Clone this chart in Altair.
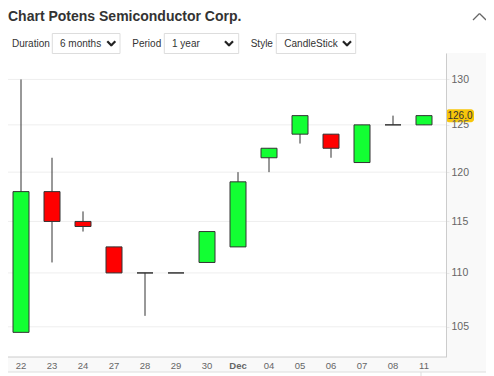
import altair as alt
import pandas as pd

# ---- data ----
dates = ["22", "23", "24", "27", "28", "29", "30", "Dec", "04", "05", "06", "07", "08", "11"]
opens = [104.5, 118.0, 115.0, 112.5, 110.0, 110.0, 111.0, 112.5, 121.5, 124.0, 124.0, 121.0, 125.0, 125.0]
closes = [118.0, 115.0, 114.5, 110.0, 110.0, 110.0, 114.0, 119.0, 122.5, 126.0, 122.5, 125.0, 125.0, 126.0]
highs = [130.0, 121.5, 116.0, 112.5, 110.0, 110.0, 114.0, 120.0, 122.5, 126.0, 124.0, 125.0, 126.0, 126.0]
lows = [104.5, 111.0, 114.0, 110.0, 106.0, 110.0, 111.0, 112.5, 120.0, 123.0, 121.5, 121.0, 125.0, 125.0]
y_ticks = [105, 110, 115, 120, 125, 130]
last_price = [126.0]
last_label = ["126.0"]

title_text = "Chart Potens Semiconductor Corp."
control_labels = ["Duration", "Period", "Style"]
control_values = ["6 months", "1 year", "CandleStick"]

FONT = "Liberation Sans"
W, H = 438, 304

df = pd.DataFrame({"date": dates, "open": opens, "close": closes, "high": highs, "low": lows})
df["dir"] = ["up" if c > o else ("down" if c < o else "flat") for o, c in zip(opens, closes)]

xenc = alt.X(
    "date:N", sort=dates, title=None,
    scale=alt.Scale(range=[-2.5, 431.5], paddingInner=0, paddingOuter=0),
    axis=alt.Axis(labelAngle=0, ticks=False, domain=False, grid=False, labelPadding=3, zindex=1,
                  labelFontSize=9.5, labelColor="#666", labelFont=FONT,
                  labelFontWeight={"expr": "datum.label == 'Dec' ? 'bold' : 'normal'"}),
)
yscale = alt.Scale(type="log", domain=[102.3, 133])
yaxis = alt.Axis(orient="right", values=y_ticks, format="d", ticks=True, tickSize=3,
                 tickColor="#e8e8e8", grid=False, domainColor="#cccccc", zindex=1,
                 labelPadding=2, labelFontSize=10.5, labelColor="#666", labelFont=FONT)

grid = alt.Chart(pd.DataFrame({"t": y_ticks})).mark_rule(color="#eeeeee", strokeWidth=1).encode(
    y=alt.Y("t:Q", scale=yscale, title=None, axis=yaxis), x=alt.value(-2), x2=alt.value(438))

base = alt.Chart(df)
wick = base.mark_rule(color="#333", strokeWidth=1).encode(
    x=xenc,
    y=alt.Y("low:Q", scale=yscale, title=None),
    y2="high:Q",
)
body = base.mark_bar(size=16, stroke="#333", strokeWidth=1).encode(
    x=xenc,
    y=alt.Y("open:Q", scale=yscale, title=None),
    y2="close:Q",
    color=alt.Color("dir:N", legend=None,
                    scale=alt.Scale(domain=["up", "down", "flat"], range=["#12FF33", "#FF0000", "#ffffff"])),
)

pdf = pd.DataFrame({"price": last_price, "label": last_label})
badge = alt.Chart(pdf).mark_tick(size=28, thickness=13, color="#F7C60A", cornerRadius=3, opacity=1).encode(
    x=alt.value(452), y=alt.Y("price:Q", scale=yscale, title=None))
badge_text = alt.Chart(pdf).mark_text(fontSize=10, color="#333", font=FONT, align="center", baseline="middle").encode(
    x=alt.value(452), y=alt.Y("price:Q", scale=yscale, title=None), text="label:N")

one = pd.DataFrame({"a": [0]})


def vtext(text, x, y, size=10, weight="normal", color="#333"):
    return alt.Chart(one).mark_text(text=text, align="left", baseline="alphabetic", fontSize=size,
                                    fontWeight=weight, color=color, font=FONT).encode(
        x=alt.value(x), y=alt.value(y))


def vrect(x1, x2, y1, y2, fill="white", stroke="#dddddd"):
    kw = {"fill": fill, "strokeWidth": 1}
    if stroke:
        kw["stroke"] = stroke
    return alt.Chart(one).mark_rect(**kw).encode(
        x=alt.value(x1), x2=alt.value(x2), y=alt.value(y1), y2=alt.value(y2))


def vline(x1, y1, x2, y2, color="#222", width=1.0):
    return alt.Chart(one).mark_rule(color=color, strokeWidth=width).encode(
        x=alt.value(x1), y=alt.value(y1), x2=alt.value(x2), y2=alt.value(y2))


def chevron(cx, cy):
    return [vline(cx - 4, cy - 2.5, cx + 0.4, cy + 2, width=2.2),
            vline(cx - 0.4, cy + 2, cx + 4, cy - 2.5, width=2.2)]


layers = []
# faint background outside plot
layers.append(vrect(438, 486, 0, 319, fill="#f9f9f9", stroke=None))
layers.append(vrect(0, 438, 304, 319, fill="#f9f9f9", stroke=None))
layers.append(vline(0, 319, 478, 319, color="#dddddd"))
layers.append(vline(413, 319, 413, 330, color="#dddddd"))
layers.append(vline(0, 304, 438, 304, color="#cccccc"))

# header
layers.append(vtext(title_text, 0, -32, size=14, weight="bold", color="#333"))
layers.append(vline(465, -33, 471.5, -39.5, color="#666", width=1.3))
layers.append(vline(471.5, -39.5, 478, -33, color="#666", width=1.3))

label_x = [4, 124.3, 242.7]
box_x = [(44.3, 112), (156.3, 230.7), (268.3, 347.7)]
value_x = [52, 164, 276.3]
chev_x = [103.3, 221, 339]
for lab, val, lx, (b1, b2), vx, cx in zip(control_labels, control_values, label_x, box_x, value_x, chev_x):
    layers.append(vtext(lab, lx, -6))
    layers.append(vrect(b1, b2, -19.5, 0.5))
    layers.append(vtext(val, vx, -6))
    layers += chevron(cx, -9.3)

chart = alt.layer(*layers, grid, wick, body, badge, badge_text).properties(
    width=W, height=H, autosize="none",
    padding={"left": 0, "top": 45, "right": 40, "bottom": 19},
    background="white",
).configure_view(stroke=None)

chart.save("out.html", embed_options={"renderer": "svg", "actions": False})
